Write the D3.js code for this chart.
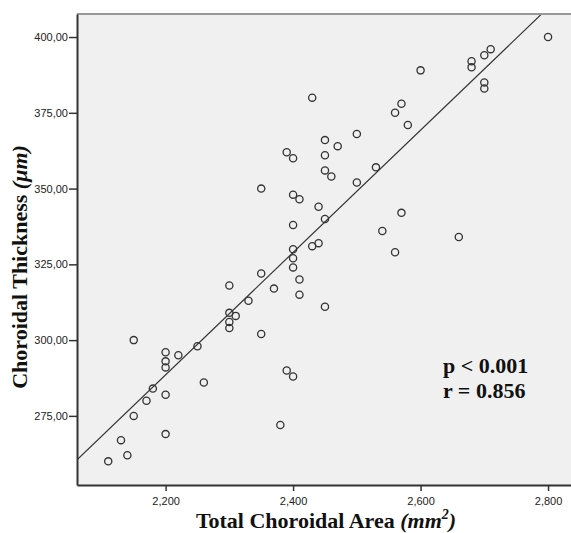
<!DOCTYPE html>
<html>
<head>
<meta charset="utf-8">
<script src="https://cdn.jsdelivr.net/npm/d3@7"></script>
<style>
  body { margin:0; background:#fff; }
  svg { display:block; }
</style>
</head>
<body>
<svg id="scatter"></svg>
<script>
// total choroidal area (mm2) for each eye
var areaValues = [2800,2710,2700,2680,2680,2700,2700,2600,2430,2570,
                  2560,2580,2500,2450,2470,2390,2400,2450,2450,2460,
                  2500,2530,2350,2400,2410,2440,2450,2570,2540,2400,
                  2440,2430,2400,2660,2560,2400,2400,2350,2410,2370,
                  2410,2300,2330,2450,2310,2300,2300,2300,2350,2150,
                  2250,2200,2220,2200,2200,2260,2180,2200,2170,2150,
                  2390,2400,2380,2200,2130,2140,2110];
// choroidal thickness (um), same order
var thicknessValues = [400,396,394,392,390,385,383,389,380,378,
                       375,371,368,366,364,362,360,361,356,354,
                       352,357,350,348,346.5,344,340,342,336,338,
                       332,331,330,334,329,327,324,322,320,317,
                       315,318,313,311,308,309,306,304,302,300,
                       298,296,295,293,291,286,284,282,280,275,
                       290,288,272,269,267,262,260];

var xTicks = [2200,2400,2600,2800];
var yTicks = [275,300,325,350,375,400];

// fit line
var fitSlope = 0.2018;
var fitIntercept = -155.4;

var xDomain = [2061, 2836];
var yDomain = [252.2, 407.6];

var drawChart = function(target)
{
    var screen = {width:571, height:533};
    var margins = {top:14, bottom:48, left:77, right:0};
    var graph = {
        width: screen.width-margins.left-margins.right,
        height: screen.height-margins.top-margins.bottom
    };

    var svg = d3.select(target)
        .attr("width",screen.width)
        .attr("height",screen.height);

    var xScale = d3.scaleLinear().domain(xDomain).range([0,graph.width]);
    var yScale = d3.scaleLinear().domain(yDomain).range([graph.height,0]);

    var g = svg.append("g")
        .attr("transform","translate("+margins.left+","+margins.top+")");

    //plot background
    g.append("rect")
        .attr("width",graph.width)
        .attr("height",graph.height)
        .attr("fill","#f0f0f0");

    g.append("clipPath").attr("id","clip")
        .append("rect")
        .attr("width",graph.width)
        .attr("height",graph.height);

    //regression line
    var lineX = [xDomain[0], xDomain[1]];
    g.append("line")
        .attr("clip-path","url(#clip)")
        .attr("x1",xScale(lineX[0]))
        .attr("y1",yScale(fitSlope*lineX[0]+fitIntercept))
        .attr("x2",xScale(lineX[1]))
        .attr("y2",yScale(fitSlope*lineX[1]+fitIntercept))
        .attr("stroke","#333")
        .attr("stroke-width",1.2);

    //points
    g.selectAll("circle")
        .data(areaValues)
        .enter()
        .append("circle")
        .attr("cx",function(d){ return xScale(d); })
        .attr("cy",function(d,i){ return yScale(thicknessValues[i]); })
        .attr("r",3.6)
        .attr("fill","none")
        .attr("stroke","#333")
        .attr("stroke-width",1.3);

    //top border
    g.append("line")
        .attr("x1",0).attr("x2",graph.width)
        .attr("y1",0).attr("y2",0)
        .attr("stroke","#999")
        .attr("stroke-width",2);

    //axes
    var xAxis = d3.axisBottom(xScale)
        .tickValues(xTicks)
        .tickSize(6)
        .tickSizeOuter(0)
        .tickFormat(d3.format(","));
    var yAxis = d3.axisLeft(yScale)
        .tickValues(yTicks)
        .tickSize(8)
        .tickSizeOuter(0)
        .tickFormat(function(d){ return d.toFixed(2).replace(".",","); });

    var xa = g.append("g")
        .attr("transform","translate(0,"+graph.height+")")
        .call(xAxis);
    var ya = g.append("g").call(yAxis);

    [xa,ya].forEach(function(a)
    {
        a.select(".domain").attr("stroke","#333").attr("stroke-width",2);
        a.selectAll(".tick line").attr("stroke","#333").attr("stroke-width",1.5);
        a.selectAll(".tick text")
            .attr("fill","#222")
            .style("font-family","'Liberation Sans', Arial, sans-serif")
            .style("font-size","11px");
    });
    xa.selectAll(".tick text").attr("dy","0.71em").attr("y",12);
    ya.selectAll(".tick text").attr("x",-9);

    //stats text
    var stats = g.append("g")
        .style("font-family","'Liberation Serif', 'Times New Roman', serif")
        .style("font-weight","bold")
        .style("font-size","22px")
        .attr("fill","#111");
    stats.append("text").attr("x",366).attr("y",359).text("p < 0.001");
    stats.append("text").attr("x",366).attr("y",384).text("r = 0.856");

    //axis titles
    var xt = svg.append("text")
        .attr("x",326)
        .attr("y",528)
        .attr("text-anchor","middle")
        .style("font-family","'Liberation Serif', 'Times New Roman', serif")
        .style("font-weight","bold")
        .style("font-size","22px")
        .attr("fill","#111");
    xt.append("tspan").text("Total Choroidal Area ");
    xt.append("tspan").style("font-style","italic").text("(mm");
    xt.append("tspan").style("font-style","italic").style("font-size","14px").attr("dy","-9").text("2");
    xt.append("tspan").style("font-style","italic").attr("dy","9").text(")");

    var yt = svg.append("text")
        .attr("transform","translate(27,267) rotate(-90)")
        .attr("text-anchor","middle")
        .style("font-family","'Liberation Serif', 'Times New Roman', serif")
        .style("font-weight","bold")
        .style("font-size","22px")
        .attr("fill","#111");
    yt.append("tspan").text("Choroidal Thickness ");
    yt.append("tspan").style("font-style","italic").text("(\u03bcm)");
}

drawChart("#scatter");
</script>
</body>
</html>
